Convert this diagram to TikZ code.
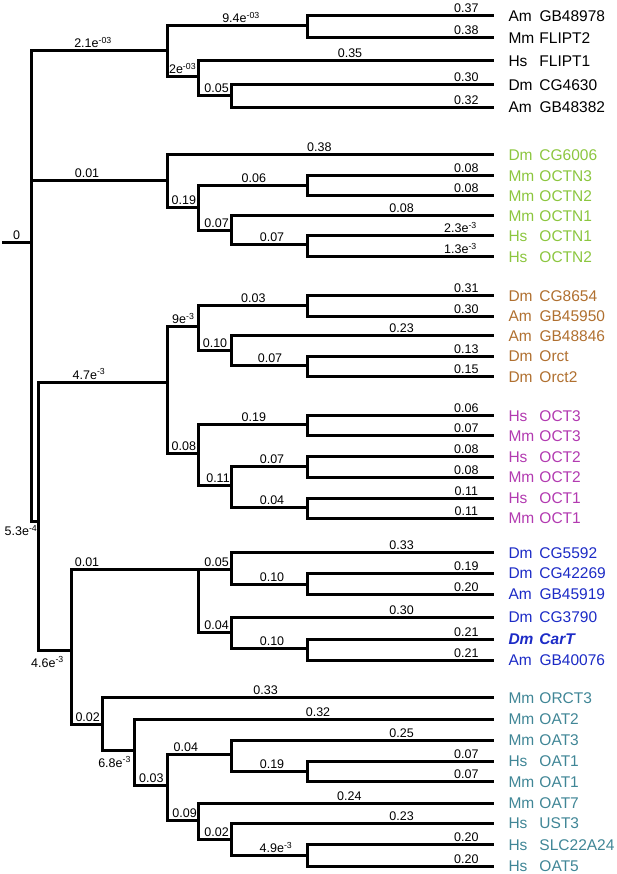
\documentclass[tikz,border=0pt]{standalone}
\usepackage{fontspec}
\setmainfont{Liberation Sans}
\definecolor{octn}{RGB}{140,198,63}
\definecolor{orct}{RGB}{176,112,48}
\definecolor{oct}{RGB}{178,58,176}
\definecolor{cart}{RGB}{28,43,198}
\definecolor{oat}{RGB}{64,134,150}
\newcommand{\ex}[1]{e\textsuperscript{#1}}
\newcommand{\taxon}[2]{\makebox[31pt][l]{#1}#2}

\begin{document}
\begin{tikzpicture}[x=1pt,y=-1pt,line width=3pt,line join=miter,
    tip/.style={anchor=west,inner sep=0pt,font=\fontsize{15.5}{16}\selectfont},
    blen/.style={anchor=base,inner sep=0pt,font=\fontsize{12.5}{13}\selectfont}]
\useasboundingbox (0,0) rectangle (617,874);

\coordinate (s0) at (2,242.3);
\coordinate (r0) at (31,242.3);
\coordinate (A) at (167.2,50.7);
\coordinate (A1) at (307.5,26);
\coordinate (A2) at (198.4,76.7);
\coordinate (A3) at (231.2,96);
\coordinate (B) at (167.2,180.3);
\coordinate (B1) at (198.4,207.3);
\coordinate (B2) at (307.5,186);
\coordinate (B3) at (231.2,230.7);
\coordinate (B4) at (307.5,245);
\coordinate (C) at (38.7,521.7);
\coordinate (D) at (167.2,382.3);
\coordinate (D1) at (198.4,326.7);
\coordinate (D11) at (307.5,305);
\coordinate (D12) at (231.2,350);
\coordinate (D13) at (307.5,365);
\coordinate (D2) at (198.4,453.3);
\coordinate (D21) at (307.5,424.3);
\coordinate (D22) at (231.2,485);
\coordinate (D23) at (307.5,466.7);
\coordinate (D24) at (307.5,507.3);
\coordinate (E) at (71,650);
\coordinate (F) at (198.4,569);
\coordinate (F1) at (231.2,569);
\coordinate (F11) at (307.5,584.3);
\coordinate (F2) at (231.2,632.3);
\coordinate (F21) at (307.5,648.3);
\coordinate (G) at (102,724);
\coordinate (G1) at (134.4,750.7);
\coordinate (G2) at (167.2,785.7);
\coordinate (G3) at (231.2,754);
\coordinate (G31) at (307.5,771.3);
\coordinate (G4) at (198.4,820);
\coordinate (G5) at (231.2,839.3);
\coordinate (G51) at (307.5,855.7);

\coordinate (t1) at (494,15.7);  \node[tip] (l1) at (507,15.7) {\taxon{Am}{GB48978}};
\coordinate (t2) at (494,37.7);  \node[tip] (l2) at (507,37.7) {\taxon{Mm}{FLIPT2}};
\coordinate (t3) at (494,61);    \node[tip] (l3) at (507,61) {\taxon{Hs}{FLIPT1}};
\coordinate (t4) at (494,85);    \node[tip] (l4) at (507,85) {\taxon{Dm}{CG4630}};
\coordinate (t5) at (494,107.3); \node[tip] (l5) at (507,107.3) {\taxon{Am}{GB48382}};
\coordinate (t6) at (494,155);   \node[tip,octn] (l6) at (507,155) {\taxon{Dm}{CG6006}};
\coordinate (t7) at (494,175.7); \node[tip,octn] (l7) at (507,175.7) {\taxon{Mm}{OCTN3}};
\coordinate (t8) at (494,196);   \node[tip,octn] (l8) at (507,196) {\taxon{Mm}{OCTN2}};
\coordinate (t9) at (494,215.7); \node[tip,octn] (l9) at (507,215.7) {\taxon{Mm}{OCTN1}};
\coordinate (t10) at (494,236);  \node[tip,octn] (l10) at (507,236) {\taxon{Hs}{OCTN1}};
\coordinate (t11) at (494,256.7); \node[tip,octn] (l11) at (507,256.7) {\taxon{Hs}{OCTN2}};
\coordinate (t12) at (494,295.7); \node[tip,orct] (l12) at (507,295.7) {\taxon{Dm}{CG8654}};
\coordinate (t13) at (494,316.3); \node[tip,orct] (l13) at (507,316.3) {\taxon{Am}{GB45950}};
\coordinate (t14) at (494,335.7); \node[tip,orct] (l14) at (507,335.7) {\taxon{Am}{GB48846}};
\coordinate (t15) at (494,356);   \node[tip,orct] (l15) at (507,356) {\taxon{Dm}{Orct}};
\coordinate (t16) at (494,376.7); \node[tip,orct] (l16) at (507,376.7) {\taxon{Dm}{Orct2}};
\coordinate (t17) at (494,415.7); \node[tip,oct] (l17) at (507,415.7) {\taxon{Hs}{OCT3}};
\coordinate (t18) at (494,435.7); \node[tip,oct] (l18) at (507,435.7) {\taxon{Mm}{OCT3}};
\coordinate (t19) at (494,456.7); \node[tip,oct] (l19) at (507,456.7) {\taxon{Hs}{OCT2}};
\coordinate (t20) at (494,477.3); \node[tip,oct] (l20) at (507,477.3) {\taxon{Mm}{OCT2}};
\coordinate (t21) at (494,498);   \node[tip,oct] (l21) at (507,498) {\taxon{Hs}{OCT1}};
\coordinate (t22) at (494,518.3); \node[tip,oct] (l22) at (507,518.3) {\taxon{Mm}{OCT1}};
\coordinate (t23) at (494,552.7); \node[tip,cart] (l23) at (507,552.7) {\taxon{Dm}{CG5592}};
\coordinate (t24) at (494,573.3); \node[tip,cart] (l24) at (507,573.3) {\taxon{Dm}{CG42269}};
\coordinate (t25) at (494,594);   \node[tip,cart] (l25) at (507,594) {\taxon{Am}{GB45919}};
\coordinate (t26) at (494,617.3); \node[tip,cart] (l26) at (507,617.3) {\taxon{Dm}{CG3790}};
\coordinate (t27) at (494,639);   \node[tip,cart] (l27) at (507,639) {\bfseries\itshape\taxon{Dm}{CarT}};
\coordinate (t28) at (494,660.3); \node[tip,cart] (l28) at (507,660.3) {\taxon{Am}{GB40076}};
\coordinate (t29) at (494,697.7); \node[tip,oat] (l29) at (507,697.7) {\taxon{Mm}{ORCT3}};
\coordinate (t30) at (494,719);   \node[tip,oat] (l30) at (507,719) {\taxon{Mm}{OAT2}};
\coordinate (t31) at (494,740);   \node[tip,oat] (l31) at (507,740) {\taxon{Mm}{OAT3}};
\coordinate (t32) at (494,761.3); \node[tip,oat] (l32) at (507,761.3) {\taxon{Hs}{OAT1}};
\coordinate (t33) at (494,781.7); \node[tip,oat] (l33) at (507,781.7) {\taxon{Mm}{OAT1}};
\coordinate (t34) at (494,803);   \node[tip,oat] (l34) at (507,803) {\taxon{Mm}{OAT7}};
\coordinate (t35) at (494,823.3); \node[tip,oat] (l35) at (507,823.3) {\taxon{Hs}{UST3}};
\coordinate (t36) at (494,844.7); \node[tip,oat] (l36) at (507,844.7) {\taxon{Hs}{SLC22A24}};
\coordinate (t37) at (494,866);   \node[tip,oat] (l37) at (507,866) {\taxon{Hs}{OAT5}};

\draw (s0) -- (r0) node[blen] (e0) at (16.6,239.3) {0};
\draw (r0) |- (A) node[blen] (eA) at (93,47.7) {2.1\ex{-03}};
\draw (A) |- (A1) node[blen] (eA1) at (241,23) {9.4\ex{-03}};
\draw (A1) |- (t1) node[blen] (e1) at (466.4,12.7) {0.37};
\draw (A1) |- (t2) node[blen] (e2) at (466.4,34.7) {0.38};
\draw (A) |- (A2) node[blen] (eA2) at (182.6,73.7) {2\ex{-03}};
\draw (A2) |- (t3) node[blen] (e3) at (350,58) {0.35};
\draw (A2) |- (A3) node[blen] (eA3) at (216.6,93) {0.05};
\draw (A3) |- (t4) node[blen] (e4) at (466.4,82) {0.30};
\draw (A3) |- (t5) node[blen] (e5) at (466.4,104.3) {0.32};

\draw (r0) |- (B) node[blen] (eB) at (87,177.3) {0.01};
\draw (B) |- (t6) node[blen] (e6) at (319.4,152) {0.38};
\draw (B) |- (B1) node[blen] (eB1) at (183.8,204.3) {0.19};
\draw (B1) |- (B2) node[blen] (eB2) at (253.8,183) {0.06};
\draw (B2) |- (t7) node[blen] (e7) at (466.4,172.7) {0.08};
\draw (B2) |- (t8) node[blen] (e8) at (466.4,193) {0.08};
\draw (B1) |- (B3) node[blen] (eB3) at (216.6,227.7) {0.07};
\draw (B3) |- (t9) node[blen] (e9) at (401.6,212.7) {0.08};
\draw (B3) |- (B4) node[blen] (eB4) at (272,242) {0.07};
\draw (B4) |- (t10) node[blen] (e10) at (460.5,233) {2.3\ex{-3}};
\draw (B4) |- (t11) node[blen] (e11) at (460.5,253.7) {1.3\ex{-3}};

\draw (r0) |- (C) node[blen] (eC) at (21,535.5) {5.3\ex{-4}};
\draw (C) |- (D) node[blen] (eD) at (89,379.3) {4.7\ex{-3}};
\draw (D) |- (D1) node[blen] (eD1) at (183.3,323.7) {9\ex{-3}};
\draw (D1) |- (D11) node[blen] (eD11) at (253.3,302) {0.03};
\draw (D11) |- (t12) node[blen] (e12) at (466.4,292.7) {0.31};
\draw (D11) |- (t13) node[blen] (e13) at (466.4,313.3) {0.30};
\draw (D1) |- (D12) node[blen] (eD12) at (215,347) {0.10};
\draw (D12) |- (t14) node[blen] (e14) at (401.6,332.7) {0.23};
\draw (D12) |- (D13) node[blen] (eD13) at (270,362) {0.07};
\draw (D13) |- (t15) node[blen] (e15) at (466.4,353) {0.13};
\draw (D13) |- (t16) node[blen] (e16) at (466.4,373.7) {0.15};
\draw (D) |- (D2) node[blen] (eD2) at (183.8,450.3) {0.08};
\draw (D2) |- (D21) node[blen] (eD21) at (253.8,421.3) {0.19};
\draw (D21) |- (t17) node[blen] (e17) at (466.4,412.7) {0.06};
\draw (D21) |- (t18) node[blen] (e18) at (466.4,432.7) {0.07};
\draw (D2) |- (D22) node[blen] (eD22) at (218,482) {0.11};
\draw (D22) |- (D23) node[blen] (eD23) at (272,463.7) {0.07};
\draw (D23) |- (t19) node[blen] (e19) at (466.4,453.7) {0.08};
\draw (D23) |- (t20) node[blen] (e20) at (466.4,474.3) {0.08};
\draw (D22) |- (D24) node[blen] (eD24) at (272,504.3) {0.04};
\draw (D24) |- (t21) node[blen] (e21) at (466.4,495) {0.11};
\draw (D24) |- (t22) node[blen] (e22) at (466.4,515.3) {0.11};

\draw (C) |- (E) node[blen] (eE) at (47.5,667) {4.6\ex{-3}};
\draw (E) |- (F) node[blen] (eF) at (87,566) {0.01};
\draw (F) |- (F1) node[blen] (eF1) at (216.6,566) {0.05};
\draw (F1) |- (t23) node[blen] (e23) at (401.6,549.7) {0.33};
\draw (F1) |- (F11) node[blen] (eF11) at (272,581.3) {0.10};
\draw (F11) |- (t24) node[blen] (e24) at (466.4,570.3) {0.19};
\draw (F11) |- (t25) node[blen] (e25) at (466.4,591) {0.20};
\draw (F) |- (F2) node[blen] (eF2) at (216.6,629.3) {0.04};
\draw (F2) |- (t26) node[blen] (e26) at (401.6,614.3) {0.30};
\draw (F2) |- (F21) node[blen] (eF21) at (272,645.3) {0.10};
\draw (F21) |- (t27) node[blen] (e27) at (466.4,636) {0.21};
\draw (F21) |- (t28) node[blen] (e28) at (466.4,657.3) {0.21};

\draw (E) |- (G) node[blen] (eG) at (87.7,721) {0.02};
\draw (G) |- (t29) node[blen] (e29) at (265.6,694.7) {0.33};
\draw (G) |- (G1) node[blen] (eG1) at (114.6,767) {6.8\ex{-3}};
\draw (G1) |- (t30) node[blen] (e30) at (318,716) {0.32};
\draw (G1) |- (G2) node[blen] (eG2) at (151.4,782.7) {0.03};
\draw (G2) |- (G3) node[blen] (eG3) at (185.8,751) {0.04};
\draw (G3) |- (t31) node[blen] (e31) at (401.6,737) {0.25};
\draw (G3) |- (G31) node[blen] (eG31) at (272,768.3) {0.19};
\draw (G31) |- (t32) node[blen] (e32) at (466.4,758.3) {0.07};
\draw (G31) |- (t33) node[blen] (e33) at (466.4,778.7) {0.07};
\draw (G2) |- (G4) node[blen] (eG4) at (184.6,817) {0.09};
\draw (G4) |- (t34) node[blen] (e34) at (349.4,800) {0.24};
\draw (G4) |- (G5) node[blen] (eG5) at (216.6,836.3) {0.02};
\draw (G5) |- (t35) node[blen] (e35) at (401.6,820.3) {0.23};
\draw (G5) |- (G51) node[blen] (eG51) at (276,852.7) {4.9\ex{-3}};
\draw (G51) |- (t36) node[blen] (e36) at (466.4,841.7) {0.20};
\draw (G51) |- (t37) node[blen] (e37) at (466.4,863) {0.20};
\end{tikzpicture}
\end{document}
